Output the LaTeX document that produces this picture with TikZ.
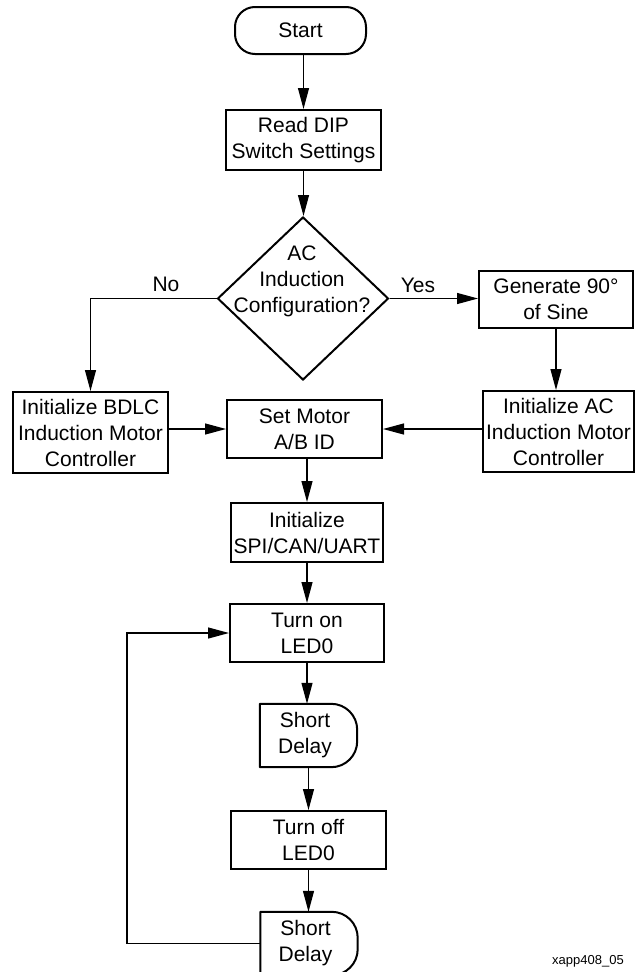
\documentclass[tikz,border=0pt]{standalone}
\usepackage{fontspec}
\setmainfont{Liberation Sans}
\usetikzlibrary{shapes.geometric,arrows.meta}
\begin{document}
\begin{tikzpicture}[x=1pt,y=-1pt,
  every node/.style={font=\fontsize{21}{26}\selectfont, align=center, inner sep=0pt},
  box/.style={draw, line width=2pt, rectangle, minimum width=155pt, minimum height=58pt},
  dia/.style={draw, diamond, line width=2pt, minimum width=171pt, minimum height=163pt},
  delaybox/.style={rectangle, minimum width=90pt, minimum height=63pt},
  delayline/.style={line width=2pt, line join=round},
  conn/.style={line width=1.2pt, -{Triangle[length=21pt,width=11pt]}},
  tagtext/.style={font=\fontsize{13}{15}\selectfont, anchor=base east}]
\useasboundingbox (0,0) rectangle (637,972);

\node[box, rounded corners=20pt, minimum width=131pt, minimum height=47pt] (start) at (300.5,30.5) {Start};
\node[box, minimum height=60pt] (read) at (303.5,140) {Read DIP\\Switch Settings};
\node[dia] (dec) at (303,298.5) {};
\node (dect) at (302,281) {AC\\Induction\\Configuration?};
\node[box, minimum width=154pt, minimum height=57pt] (gen) at (556,299.5) {Generate 90°\\of Sine};
\node[box, minimum height=81pt] (bdlc) at (90.5,432.5) {Initialize BDLC\\Induction Motor\\Controller};
\node[box] (setm) at (304.5,429) {Set Motor\\A/B ID};
\node[box, minimum width=151pt, minimum height=81pt] (acim) at (558.5,431.5) {Initialize AC\\Induction Motor\\Controller};
\node[box, minimum width=152pt, minimum height=59pt] (spi) at (307,532.5) {Initialize\\SPI/CAN/UART};
\node[box, minimum width=154pt] (on) at (307,633) {Turn on\\LED0};
\node[delaybox] (d1) at (305,735.5) {Short\\Delay};
\node[box] (off) at (308.5,840) {Turn off\\LED0};
\node[delaybox] (d2) at (305.5,943.5) {Short\\Delay};

\draw[delayline] (d1.south west) -- (d1.north west) -- ([xshift=-19pt]d1.north east)
  arc[start angle=90, end angle=0, radius=26pt] -- ([xshift=7pt,yshift=26pt]d1.south east)
  arc[start angle=0, end angle=-90, radius=26pt] -- cycle;
\draw[delayline] (d2.south west) -- (d2.north west) -- ([xshift=-19pt]d2.north east)
  arc[start angle=90, end angle=0, radius=26pt] -- ([xshift=7pt,yshift=26pt]d2.south east)
  arc[start angle=0, end angle=-90, radius=26pt] -- cycle;

\node (no) at (166,284.5) {No};
\node (yes) at (418,285) {Yes};
\node[tagtext] (tag) at (624,964) {xapp408\_05};

\draw[conn] (read.north |- start.south) -- (read.north);
\draw[conn] (read.south) -- (read.south |- dec.north);
\draw[conn] (dec.west) -| (bdlc.north);
\draw[conn] (dec.east) -- (dec.east -| gen.west);
\draw[conn] (gen.south) -- (gen.south |- acim.north);
\draw[conn] (bdlc.east |- setm.west) -- (setm.west);
\draw[conn] (acim.west |- setm.east) -- (setm.east);
\draw[conn] (spi.north |- setm.south) -- (spi.north);
\draw[conn] (spi.south) -- (spi.south |- on.north);
\draw[conn] (on.south) -- (on.south |- d1.north);
\draw[conn] (off.north |- d1.south) -- (off.north);
\draw[conn] (off.south) -- (off.south |- d2.north);
\coordinate (lp) at (127,943.5);
\draw[conn] (d2.west) -- (lp) |- (on.west);
\end{tikzpicture}
\end{document}
